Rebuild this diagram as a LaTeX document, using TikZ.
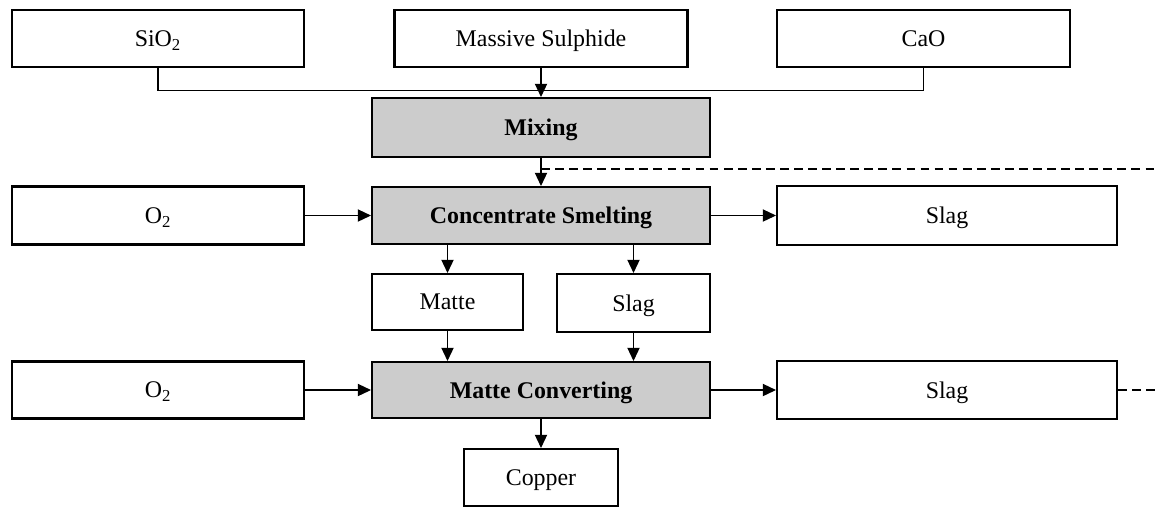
\documentclass[tikz,border=0pt]{standalone}
\usepackage{fontspec}
\setmainfont{Liberation Serif}
\usepackage{tikz}
\usetikzlibrary{arrows.meta}

\begin{document}
\begin{tikzpicture}[>={Triangle[length=7.5pt,width=7pt]},
    font=\fontsize{13.6}{16}\selectfont,
    box/.style={draw,line width=1.2pt,inner sep=0pt,text depth=0pt},
    stage/.style={box,fill=black!20,font=\fontsize{13.6}{16}\selectfont\bfseries},
    link/.style={line width=0.6pt}]

        \useasboundingbox (0,0) rectangle (23.1,-10.12);

        \node[box,minimum width=5.84cm,minimum height=1.14cm]    (sio) at (3.16,-0.77)       {SiO\textsubscript{2}};
        \node[box,minimum width=5.86cm,minimum height=1.14cm]    (sulphide) at (10.82,-0.77) {Massive Sulphide};
        \node[box,minimum width=5.86cm,minimum height=1.14cm]    (cao) at (18.47,-0.77)      {CaO};
        \node[stage,minimum width=6.76cm,minimum height=1.18cm]  (mixing) at (10.82,-2.55)   {Mixing};
        \node[stage,minimum width=6.76cm,minimum height=1.14cm]  (smelting) at (10.82,-4.31) {Concentrate Smelting};
        \node[box,minimum width=5.84cm,minimum height=1.16cm]    (oxyA) at (3.16,-4.31)      {O\textsubscript{2}};
        \node[box,minimum width=6.8cm,minimum height=1.18cm]     (slagA) at (18.94,-4.31)    {Slag};
        \node[box,minimum width=3.02cm,minimum height=1.12cm]    (matte) at (8.95,-6.04)     {Matte};
        \node[box,minimum width=3.06cm,minimum height=1.16cm]    (slagB) at (12.67,-6.06)    {Slag};
        \node[stage,minimum width=6.76cm,minimum height=1.12cm]  (converting) at (10.82,-7.8) {Matte Converting};
        \node[box,minimum width=5.84cm,minimum height=1.14cm]    (oxyB) at (3.16,-7.8)       {O\textsubscript{2}};
        \node[box,minimum width=6.8cm,minimum height=1.16cm]     (slagC) at (18.94,-7.8)     {Slag};
        \node[box,minimum width=3.08cm,minimum height=1.14cm]    (copper) at (10.82,-9.55)   {Copper};

        \coordinate (tap) at (10.82,-3.38);
        \coordinate (rim) at (23.1,-3.38);

        % feed line
        \draw[link] (sio.south) -- ++(0,-0.44) -| (cao.south);

        \draw (sulphide) edge[link,->] (mixing);
        \draw (mixing) edge[link,->] (smelting);
        \draw (oxyA) edge[link,->] (smelting);
        \draw (smelting) edge[link,->] (slagA);
        \draw (smelting.south -| matte.north) edge[link,->] (matte);
        \draw (smelting.south -| slagB.north) edge[link,->] (slagB);
        \draw (matte) edge[link,->] (matte.south |- converting.north);
        \draw (slagB) edge[link,->] (slagB.south |- converting.north);
        \draw (oxyB) edge[link,->] (converting);
        \draw (converting) edge[link,->] (slagC);
        \draw (converting) edge[link,->] (copper);

        % recycle
        \draw[link,dash pattern=on 5pt off 3pt] (tap) -- (rim);
        \draw[link,dash pattern=on 5pt off 3pt] (slagC.east) -- (slagC.east -| rim);
      \end{tikzpicture}
\end{document}
